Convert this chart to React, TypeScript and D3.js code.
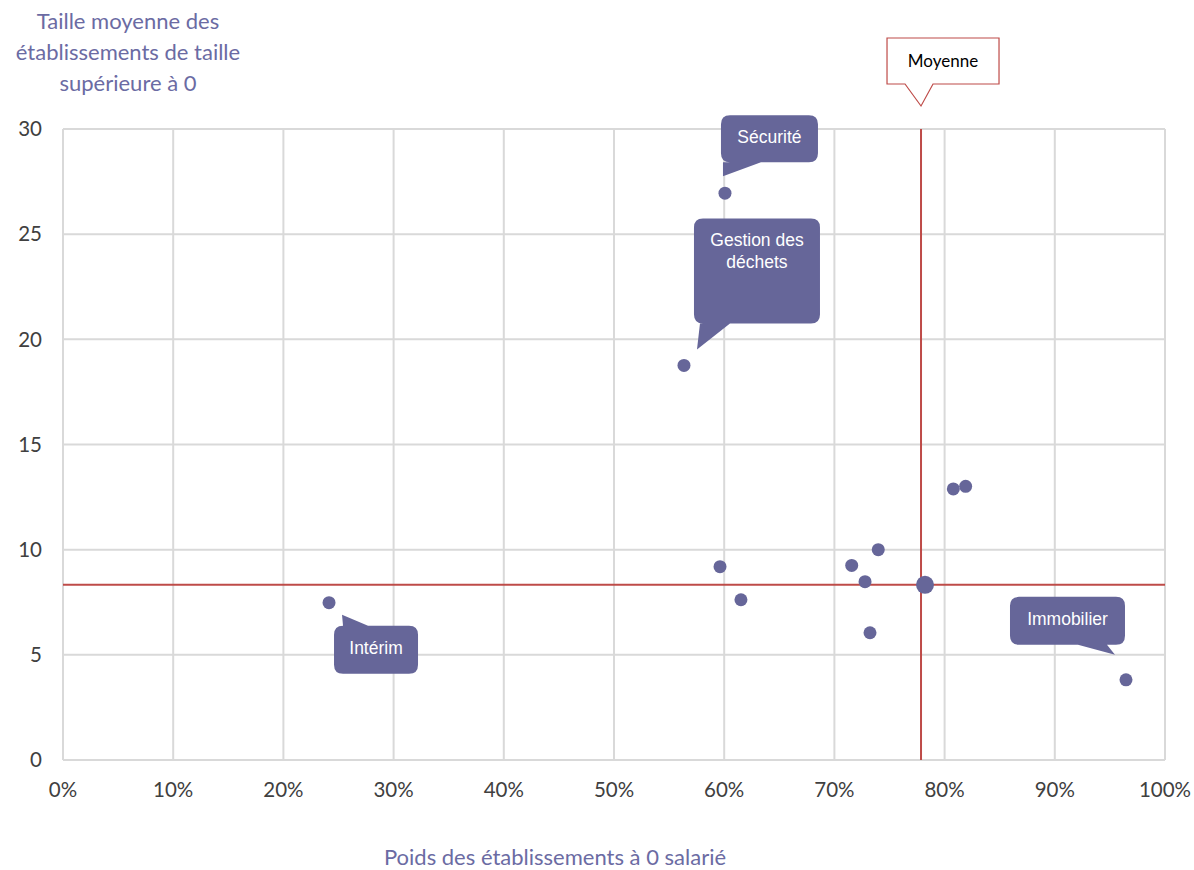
import React from 'react'
import * as d3 from 'd3'

// poids des établissements à 0 salarié (%), taille moyenne des établissements > 0
const sectors = ['Sécurité', 'Gestion des déchets', 'Intérim', 'Immobilier', '', '', '', '', '', '', '', '']
const weights = [60.07, 56.35, 24.14, 96.46, 59.62, 61.52, 71.57, 73.98, 72.78, 73.23, 80.79, 81.91]
const sizes = [26.95, 18.76, 7.48, 3.81, 9.19, 7.62, 9.25, 10.0, 8.48, 6.05, 12.89, 13.01]

const meanWeight = 77.86
const meanSize = 8.33
const meanPoint = { x: 78.22, y: 8.33 }

const xTicks = [0, 10, 20, 30, 40, 50, 60, 70, 80, 90, 100]
const yTicks = [0, 5, 10, 15, 20, 25, 30]

const W = 1194
const H = 870
const margin = { left: 63, top: 129, right: 1165, bottom: 760 }

const PURPLE = '#666699'
const RED = '#be4b48'
const TITLE = '#6b6ba3'
const FONT = "Lato, 'Open Sans', sans-serif"

// callout geometry relative to the point: box [x0,y0,x1,y1], tail base [b1,b2], tip
const callouts: Record<string, any> = {
  'Sécurité': { box: [-4, -78, 93, -31], side: 'bottom', base: [-2, 36], tip: [-2, -17], lines: ['Sécurité'] },
  'Gestion des déchets': { box: [10, -147, 136, -42], side: 'bottom', base: [16, 46], tip: [13, -16], lines: ['Gestion des', 'déchets'] },
  'Intérim': { box: [5, 23, 89, 71], side: 'top', base: [14, 39], tip: [13, 12], lines: ['Intérim'] },
  'Immobilier': { box: [-116, -83, -1, -35], side: 'bottom', base: [-48, -19], tip: [-11, -25], lines: ['Immobilier'] },
}

function calloutPath(x0: number, y0: number, x1: number, y1: number, r: number, side: string, b1: number, b2: number, tx: number, ty: number) {
  if (side === 'bottom') {
    return `M${x0 + r},${y0} H${x1 - r} Q${x1},${y0} ${x1},${y0 + r} V${y1 - r} Q${x1},${y1} ${x1 - r},${y1} H${b2} L${tx},${ty} L${b1},${y1} H${x0 + r} Q${x0},${y1} ${x0},${y1 - r} V${y0 + r} Q${x0},${y0} ${x0 + r},${y0} Z`
  }
  return `M${x0 + r},${y0} H${b1} L${tx},${ty} L${b2},${y0} H${x1 - r} Q${x1},${y0} ${x1},${y0 + r} V${y1 - r} Q${x1},${y1} ${x1 - r},${y1} H${x0 + r} Q${x0},${y1} ${x0},${y1 - r} V${y0 + r} Q${x0},${y0} ${x0 + r},${y0} Z`
}

const App = () => {
  const x = d3.scaleLinear().domain([0, 100]).range([margin.left, margin.right])
  const y = d3.scaleLinear().domain([0, 30]).range([margin.bottom, margin.top])

  const points = weights.map((w, i) => ({ name: sectors[i], px: x(w), py: y(sizes[i]) }))
  const mx = x(meanWeight)
  const my = y(meanSize)

  return (
    <svg width={W} height={H} style={{ position: 'absolute', left: 0, top: 0, display: 'block', background: '#fff' }}>
      {/* grid */}
      {xTicks.map(t => (
        <line key={'gx' + t} x1={x(t)} x2={x(t)} y1={margin.top} y2={margin.bottom} stroke="#d9d9d9" strokeWidth={2} />
      ))}
      {yTicks.map(t => (
        <line key={'gy' + t} x1={margin.left} x2={margin.right} y1={y(t)} y2={y(t)} stroke="#d9d9d9" strokeWidth={2} />
      ))}

      {/* tick labels */}
      {yTicks.map(t => (
        <text key={'ty' + t} x={42} y={y(t)} dy="0.35em" textAnchor="end" fontFamily={FONT} fontSize={20.5} fill="#404040">{t}</text>
      ))}
      {xTicks.map(t => (
        <text key={'tx' + t} x={x(t)} y={790} dy="0.35em" textAnchor="middle" fontFamily={FONT} fontSize={20.5} fill="#404040">{t + '%'}</text>
      ))}

      {/* axis titles */}
      {['Taille moyenne des', 'établissements de taille', 'supérieure à 0'].map((l, i) => (
        <text key={l} x={128} y={29 + i * 31} textAnchor="middle" fontFamily={FONT} fontSize={22} fill={TITLE}>{l}</text>
      ))}
      <text x={555} y={865} textAnchor="middle" fontFamily={FONT} fontSize={22} fill={TITLE}>Poids des établissements à 0 salarié</text>

      {/* mean lines */}
      <line x1={mx} x2={mx} y1={margin.top} y2={margin.bottom} stroke={RED} strokeWidth={2} />
      <line x1={margin.left} x2={margin.right} y1={my} y2={my} stroke={RED} strokeWidth={2} />

      {/* points */}
      {points.map((p, i) => (
        <circle key={'p' + i} cx={p.px} cy={p.py} r={6.5} fill={PURPLE} />
      ))}
      <circle cx={x(meanPoint.x)} cy={y(meanPoint.y)} r={9} fill={PURPLE} />

      {/* callouts */}
      {points.filter(p => callouts[p.name]).map(p => {
        const c = callouts[p.name]
        const [x0, y0, x1, y1] = c.box
        const d = calloutPath(p.px + x0, p.py + y0, p.px + x1, p.py + y1, 9, c.side,
          p.px + c.base[0], p.px + c.base[1], p.px + c.tip[0], p.py + c.tip[1])
        const cx = p.px + (x0 + x1) / 2
        return (
          <g key={'c' + p.name}>
            <path d={d} fill={PURPLE} />
            {c.lines.map((l: string, j: number) => (
              <text key={l} x={cx} y={p.py + y0 + 28 + j * 22} textAnchor="middle" fontFamily="'Liberation Sans', Arial, sans-serif" fontSize={17.5} fill="#fff">{l}</text>
            ))}
          </g>
        )
      })}

      {/* Moyenne callout */}
      <path d={calloutPath(mx - 34, 38, mx + 78, 84, 0, 'bottom', mx - 16, mx + 12, mx, 106)} fill="#fff" stroke={RED} strokeWidth={1.2} />
      <text x={mx + 22} y={67} textAnchor="middle" fontFamily={FONT} fontSize={17} fill="#000">Moyenne</text>
    </svg>
  )
}

export default App
